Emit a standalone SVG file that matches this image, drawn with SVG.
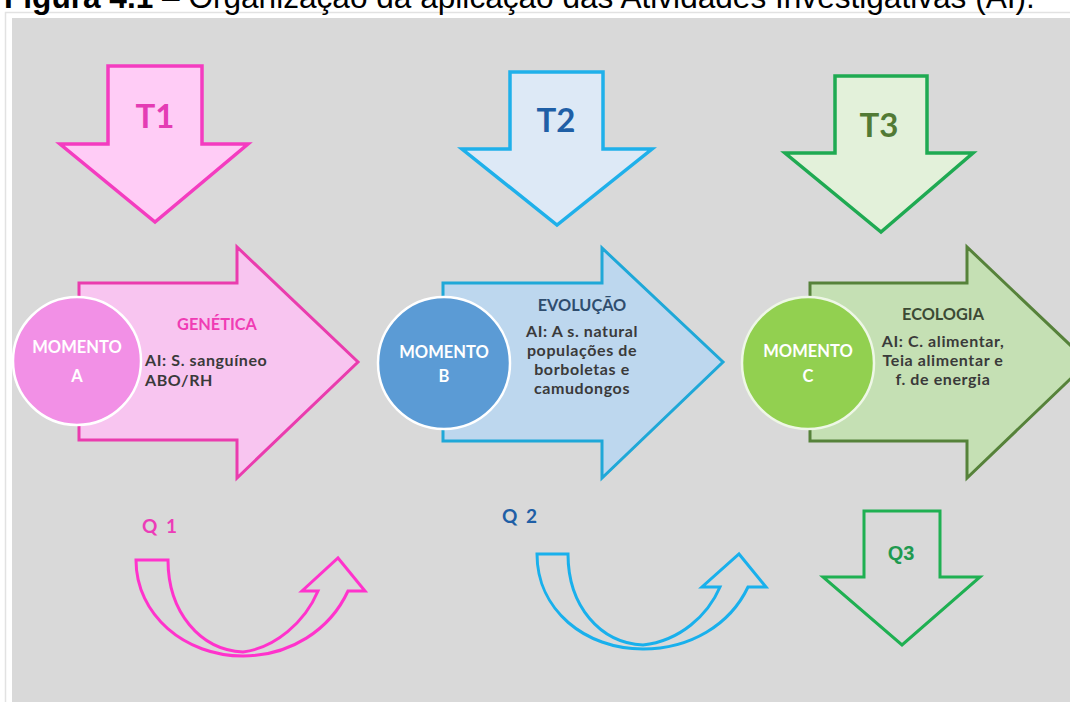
<svg xmlns="http://www.w3.org/2000/svg" width="1070" height="702" viewBox="0 0 1070 702">
  <defs>
    <style>
      .title { font-family: "Liberation Sans", Arial, sans-serif; font-size: 31.6px; fill: #000; }
      .lbl { font-family: Lato, "Liberation Sans", sans-serif; font-weight: 700; }
      .mom { font-size: 16.5px; fill: #ffffff; text-anchor: middle; }
      .body { font-size: 16px; letter-spacing: 0.6px; fill: #3a3a3a; }
      .head { font-size: 16.3px; }
      .big { font-size: 33px; text-anchor: middle; }
      .q { font-size: 19px; }
      .outline { fill: none; stroke-width: 3; stroke-linejoin: miter; }
    </style>
  </defs>

  <!-- page and panel -->
  <rect x="0" y="0" width="1070" height="702" fill="#ffffff"/>
  <rect x="5.5" y="12.5" width="1070" height="700" fill="#ffffff" stroke="#e2e2e2" stroke-width="1.5"/>
  <rect x="12" y="18" width="1060" height="690" fill="#d9d9d9"/>

  <!-- caption -->
  <text class="title" x="4" y="8"><tspan font-weight="700">Figura 4.1</tspan> – Organização da aplicação das Atividades Investigativas (AI).</text>

  <!-- stage arrows (T) -->
  <g id="t1">
    <path d="M108,66 L202,66 L202,144 L248,144 L155,222 L60,144 L108,144 Z" fill="#ffccf6" stroke="#f43cc0" stroke-width="3.5"/>
    <text class="lbl big" x="155" y="128" fill="#e43cb4">T1</text>
  </g>
  <g id="t2">
    <path d="M510,72 L603,72 L603,149 L652,149 L557,225 L462,149 L510,149 Z" fill="#dde9f6" stroke="#1fb0ea" stroke-width="3.5"/>
    <text class="lbl big" x="556" y="132" fill="#1f5fa6">T2</text>
  </g>
  <g id="t3">
    <path d="M835,76 L927,76 L927,153 L973,153 L881,232 L785,153 L835,153 Z" fill="#e3f1da" stroke="#1faa52" stroke-width="3.5"/>
    <text class="lbl big" x="879" y="137" fill="#527a35">T3</text>
  </g>

  <!-- moment A -->
  <g id="momento-a">
    <path d="M79,283 L237,283 L237,247 L358,362 L237,478 L237,440 L79,440 Z" fill="#f8c5f0" stroke="#ea3cae" stroke-width="3"/>
    <circle cx="77" cy="361" r="64" fill="#f290e6" stroke="#ffffff" stroke-width="2.5"/>
    <text class="lbl mom" x="77" y="353">MOMENTO</text>
    <text class="lbl mom" x="77" y="382">A</text>
    <text class="lbl head" x="217" y="330" text-anchor="middle" fill="#f03cb4">GENÉTICA</text>
    <text class="lbl body" x="145" y="366">AI: S. sanguíneo</text>
    <text class="lbl body" x="145" y="386">ABO/RH</text>
  </g>

  <!-- moment B -->
  <g id="momento-b">
    <path d="M443,283 L602,283 L602,248 L723,362 L602,478 L602,441 L443,441 Z" fill="#bdd7ee" stroke="#1fa8d8" stroke-width="3"/>
    <circle cx="444" cy="363" r="66" fill="#5b9bd5" stroke="#ffffff" stroke-width="2.5"/>
    <text class="lbl mom" x="444" y="358">MOMENTO</text>
    <text class="lbl mom" x="444" y="382">B</text>
    <g text-anchor="middle">
      <text class="lbl head" x="582" y="311" fill="#2f4d6e">EVOLUÇÃO</text>
      <text class="lbl body" x="582" y="337">AI: A s. natural</text>
      <text class="lbl body" x="582" y="356">populações de</text>
      <text class="lbl body" x="582" y="375">borboletas e</text>
      <text class="lbl body" x="582" y="394">camudongos</text>
    </g>
  </g>

  <!-- moment C -->
  <g id="momento-c">
    <path d="M810,283 L967,283 L967,247 L1088,362 L967,478 L967,441 L810,441 Z" fill="#c5e0b4" stroke="#56823a" stroke-width="3"/>
    <circle cx="808" cy="363" r="66" fill="#92d050" stroke="#eef7e6" stroke-width="2.5"/>
    <text class="lbl mom" x="808" y="357">MOMENTO</text>
    <text class="lbl mom" x="808" y="382">C</text>
    <g text-anchor="middle">
      <text class="lbl head" x="943" y="320" fill="#3c4a34">ECOLOGIA</text>
      <text class="lbl body" x="943" y="347">AI: C. alimentar,</text>
      <text class="lbl body" x="943" y="366">Teia alimentar e</text>
      <text class="lbl body" x="943" y="385">f. de energia</text>
    </g>
  </g>

  <!-- question links -->
  <g id="connectors">
    <g id="q1">
      <path class="outline" stroke="#ff33cc" d="M136,560 L168,560 C168,612 200,650 243,652 C275,648 305,622 318,591 L302,591 L338,558 L365,591 L348,591 C330,630 290,656 243,656 C185,656 136,615 136,560 Z"/>
      <text class="lbl q" x="142" y="533" fill="#ec3cb8" letter-spacing="2">Q 1</text>
    </g>
    <g id="q2">
      <path class="outline" stroke="#19b0ec" d="M537,554 L568,554 C568,606 600,643 643,645 C680,641 708,615 720,587 L702,587 L739,554 L766,587 L748,587 C730,625 690,649 643,649 C585,649 537,610 537,554 Z"/>
      <text class="lbl q" x="502" y="523" fill="#1f5fa6" letter-spacing="2">Q 2</text>
    </g>
  </g>

  <g id="q3">
    <path class="outline" stroke="#1fb052" d="M864,511 L940,511 L940,577 L980,577 L902,645 L823,577 L864,577 Z"/>
    <text x="901" y="560" text-anchor="middle" font-family="Liberation Sans, Arial, sans-serif" font-weight="700" font-size="20" fill="#1f9a50">Q3</text>
  </g>
</svg>
